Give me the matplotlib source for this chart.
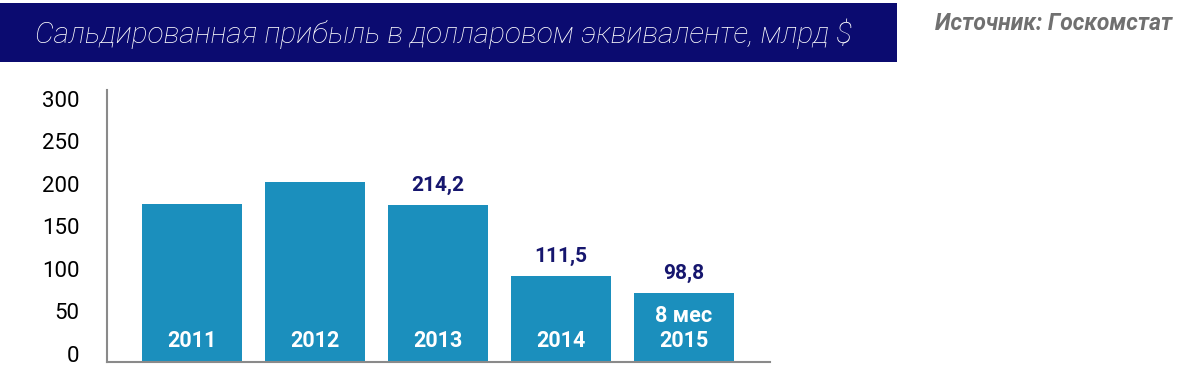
import matplotlib.pyplot as plt
import matplotlib.transforms as mtransforms
from matplotlib.patches import Rectangle

years = ["2011", "2012", "2013", "2014", "8 мес\n2015"]
heights = [186, 212, 185, 101, 81]
value_labels = ["", "", "214,2", "111,5", "98,8"]
yticks = [0, 50, 100, 150, 200, 250, 300]

bar_color = "#1b8fbd"
navy = "#0b0b70"
label_navy = "#16166e"

plt.rcParams["font.family"] = ["Roboto", "DejaVu Sans"]

fig = plt.figure(figsize=(11.81, 3.71), dpi=100)

# title box
fig.patches.append(Rectangle((0.0, 371 - 62), 897, 59, transform=None,
                             facecolor=navy, edgecolor="none"))
fig.text(35 / 1181, 1 - 34 / 371, "Сальдированная прибыль в долларовом эквиваленте, млрд $",
         color="white", fontsize=21.5, fontstyle="italic", fontweight="light",
         va="center", ha="left")
fig.text(1172 / 1181, 1 - 23 / 371, "Источник: Госкомстат", color="#707070",
         fontsize=16.5, fontstyle="italic", fontweight="bold", va="center", ha="right")

ax = fig.add_axes([107 / 1181, 9 / 371, (770 - 107) / 1181, (362 - 90) / 371])
x = list(range(len(years)))
bars = ax.bar(x, heights, width=0.81, color=bar_color)

ax.set_xlim(-0.69, 4.70)
ax.set_ylim(0, 320)
ax.set_yticks(yticks)
ax.set_yticklabels([str(t) for t in yticks])
ax.set_xticks([])
ax.tick_params(axis="y", length=0, labelsize=16, pad=20)
off = mtransforms.ScaledTranslation(0, 6 / 72, fig.dpi_scale_trans)
for lbl in ax.get_yticklabels():
    lbl.set_transform(lbl.get_transform() + off)

for side in ["top", "right"]:
    ax.spines[side].set_visible(False)
for side in ["left", "bottom"]:
    ax.spines[side].set_color("#8a8a8a")
    ax.spines[side].set_linewidth(1.5)

for xi, h, yr, vl in zip(x, heights, years, value_labels):
    ax.annotate(yr, (xi, 0), xytext=(0, 7), textcoords="offset points",
                ha="center", va="bottom", color="white", fontsize=15.5,
                fontweight="bold", linespacing=1.2)
    if vl:
        ax.annotate(vl, (xi, h), xytext=(0, 7), textcoords="offset points",
                    ha="center", va="bottom", color=label_navy, fontsize=15,
                    fontweight="bold")

fig.savefig("out.png", dpi=100)
